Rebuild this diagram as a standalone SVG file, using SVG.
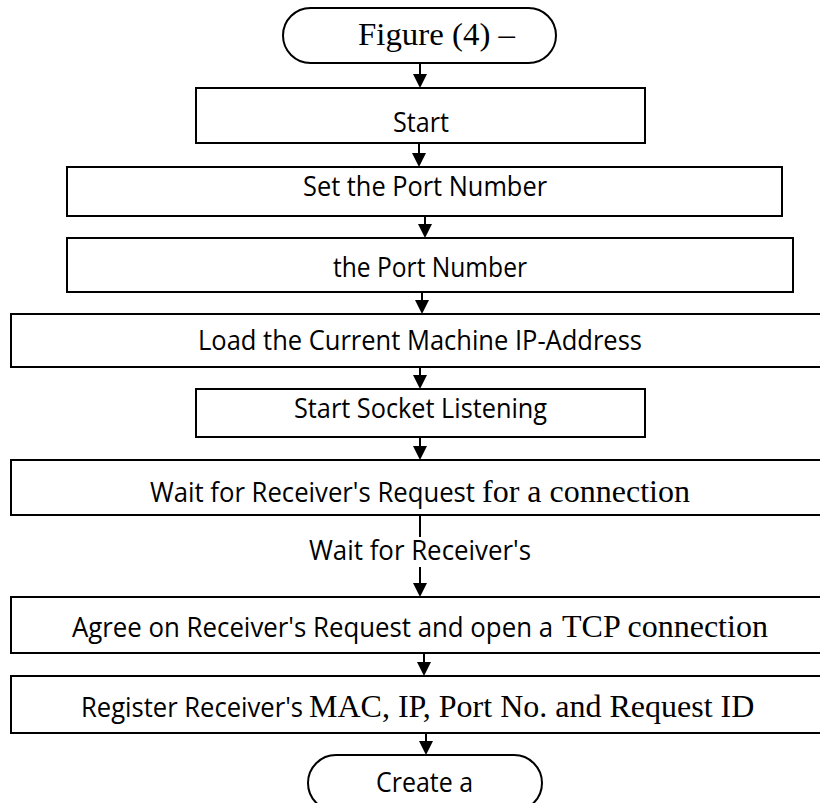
<svg xmlns="http://www.w3.org/2000/svg" width="820" height="803" viewBox="0 0 820 803">
<style>
.box{fill:#fff;stroke:#000;stroke-width:2}
.conn{stroke:#000;stroke-width:2;fill:none}
.sans{font-family:"Open Sans","Noto Sans","Liberation Sans",sans-serif;font-size:27px;fill:#000}
.serif{font-family:"Liberation Serif","Times New Roman",serif;font-size:32px;fill:#000}
</style>
<defs>
<marker id="arr" markerUnits="userSpaceOnUse" markerWidth="14" markerHeight="14" refX="6" refY="7" orient="auto">
<path d="M0,0 L14,7 L0,14 z" fill="#000"/>
</marker>
</defs>
<rect width="820" height="803" fill="#fff"/>
<g id="connectors">
<line class="conn" x1="420" y1="63" x2="420" y2="80" marker-end="url(#arr)"/>
<line class="conn" x1="419" y1="143" x2="419" y2="159" marker-end="url(#arr)"/>
<line class="conn" x1="425" y1="216" x2="425" y2="230" marker-end="url(#arr)"/>
<line class="conn" x1="422" y1="292" x2="422" y2="306" marker-end="url(#arr)"/>
<line class="conn" x1="420" y1="367" x2="420" y2="381" marker-end="url(#arr)"/>
<line class="conn" x1="420" y1="437" x2="420" y2="452" marker-end="url(#arr)"/>
<line class="conn" x1="420" y1="515" x2="420" y2="537"/>
<line class="conn" x1="420" y1="567" x2="420" y2="589" marker-end="url(#arr)"/>
<line class="conn" x1="424" y1="653" x2="424" y2="668" marker-end="url(#arr)"/>
<line class="conn" x1="426" y1="733" x2="426" y2="747" marker-end="url(#arr)"/>
<text class="sans" x="309" y="560" textLength="222" lengthAdjust="spacingAndGlyphs">Wait for Receiver's</text>
</g>
<g id="n-figure">
<rect class="box" x="283" y="8" width="273" height="55" rx="27.5" ry="27.5"/>
<text class="serif" x="358" y="45" textLength="157" lengthAdjust="spacingAndGlyphs">Figure (4) –</text>
</g>
<g id="n-start">
<rect class="box" x="196" y="88" width="449" height="55"/>
<text class="sans" x="393" y="132" textLength="56" lengthAdjust="spacingAndGlyphs">Start</text>
</g>
<g id="n-set-port">
<rect class="box" x="67" y="167" width="715" height="49"/>
<text class="sans" x="303" y="196" textLength="244" lengthAdjust="spacingAndGlyphs">Set the Port Number</text>
</g>
<g id="n-port">
<rect class="box" x="67" y="238" width="726" height="54"/>
<text class="sans" x="333" y="277" textLength="194" lengthAdjust="spacingAndGlyphs">the Port Number</text>
</g>
<g id="n-load-ip">
<rect class="box" x="11" y="314" width="830" height="53"/>
<text class="sans" x="198" y="350" textLength="444" lengthAdjust="spacingAndGlyphs">Load the Current Machine IP-Address</text>
</g>
<g id="n-socket">
<rect class="box" x="196" y="389" width="449" height="48"/>
<text class="sans" x="294" y="418" textLength="253" lengthAdjust="spacingAndGlyphs">Start Socket Listening</text>
</g>
<g id="n-wait">
<rect class="box" x="11" y="460" width="830" height="55"/>
<text class="sans" x="150" y="502" textLength="325" lengthAdjust="spacingAndGlyphs">Wait for Receiver's Request</text>
<text class="serif" x="482" y="502">for a connection</text>
</g>
<g id="n-agree">
<rect class="box" x="11" y="597" width="830" height="56"/>
<text class="sans" x="72" y="637" textLength="481" lengthAdjust="spacingAndGlyphs">Agree on Receiver's Request and open a</text>
<text class="serif" x="562" y="637">TCP connection</text>
</g>
<g id="n-register">
<rect class="box" x="11" y="676" width="830" height="57"/>
<text class="sans" x="81" y="717" textLength="222" lengthAdjust="spacingAndGlyphs">Register Receiver's</text>
<text class="serif" x="309" y="717">MAC, IP, Port No. and Request ID</text>
</g>
<g id="n-create">
<rect class="box" x="308" y="755" width="234" height="56" rx="28" ry="28"/>
<text class="sans" x="376" y="792" textLength="97" lengthAdjust="spacingAndGlyphs">Create a</text>
</g>
</svg>
